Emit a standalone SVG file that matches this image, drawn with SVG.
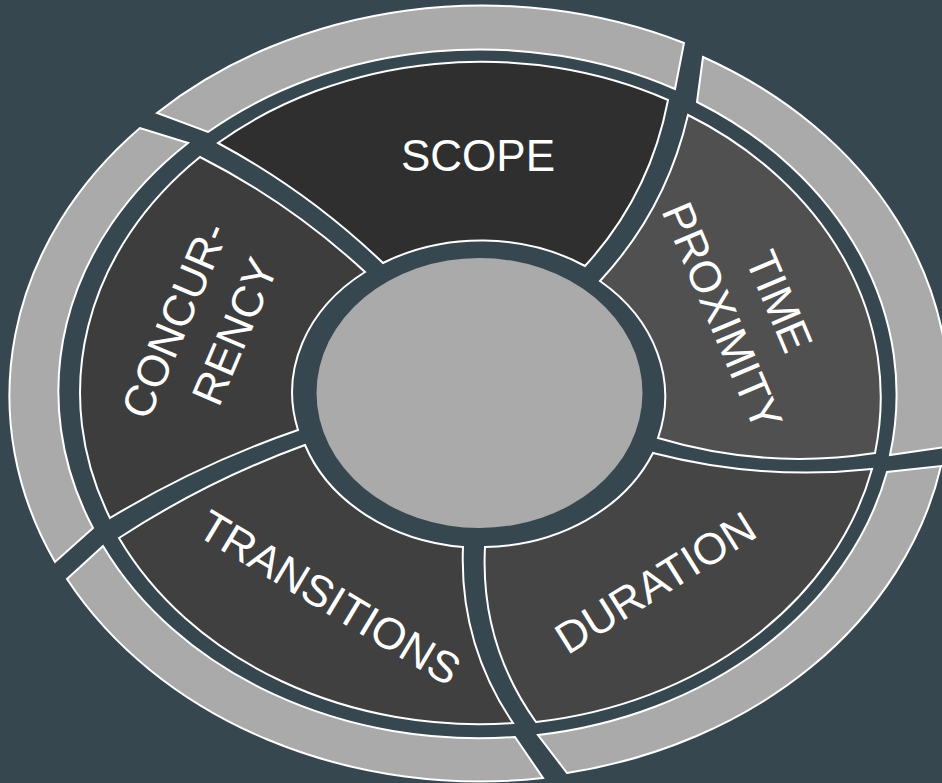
<svg xmlns="http://www.w3.org/2000/svg" width="942" height="783" viewBox="0 0 942 783">
  <style>
    .ring { fill: #aaaaaa; stroke: #ffffff; stroke-width: 2; stroke-linejoin: miter; }
    .seg { stroke: #ffffff; stroke-width: 2; stroke-linejoin: miter; }
    .label { font-family: "Liberation Sans", Arial, sans-serif; font-size: 44px; fill: #ffffff; text-anchor: middle; }
  </style>
  <rect width="942" height="783" fill="#37474f"/>

  <!-- outer grey band, five pieces -->
  <g id="outer-band">
    <path class="ring" d="M157,113 A470,387 0 0 1 684,43 L675,89 A418,343 0 0 0 208,132 Z"/>
    <path class="ring" d="M703,57 A470,387 0 0 1 945,447 L890,455 A418,343 0 0 0 697,102 Z"/>
    <path class="ring" d="M941,466 A470,387 0 0 1 567,773 L538,735 A418,343 0 0 0 887,472 Z"/>
    <path class="ring" d="M543,778 A470,387 0 0 1 67,579 L103,546 A418,343 0 0 0 515,737 Z"/>
    <path class="ring" d="M55,562 A470,387 0 0 1 140,128 L188,143 A418,343 0 0 0 93,528 Z"/>
  </g>

  <!-- hub -->
  <g id="hub">
    <ellipse cx="479.5" cy="393" rx="163" ry="135" fill="#aaaaaa"/>
  </g>

  <g id="scope">
    <path class="seg" fill="#2f2f2f" d="M218,143 A400,330 0 0 1 668,100 Q650,195 585,266 A187,152 0 0 0 383,263 Q308.7,191.7 218,143 Z"/>
    <text class="label" x="478" y="171">SCOPE</text>
  </g>

  <g id="time-proximity">
    <path class="seg" fill="#505050" d="M688,115 A400,330 0 0 1 875,453 Q765,470 658,438 A187,152 0 0 0 600,281 Q666,210 688,115 Z"/>
    <text class="label" transform="translate(780,301) rotate(67)" x="0" y="16">TIME</text>
    <text class="label" transform="translate(723,316) rotate(67)" x="0" y="16">PROXIMITY</text>
  </g>

  <g id="duration">
    <path class="seg" fill="#454545" d="M872,469 A400,330 0 0 1 536,722 Q480,643.5 485,547 A187,152 0 0 0 653,453 Q761,481 872,469 Z"/>
    <text class="label" transform="translate(655,582) rotate(-32)" x="0" y="16">DURATION</text>
  </g>

  <g id="transitions">
    <path class="seg" fill="#404040" d="M513,723 A400,330 0 0 1 119,538 Q206.6,480.8 305,445 A187,152 0 0 0 463,547 Q459,643 513,723 Z"/>
    <text class="label" transform="translate(330,597) rotate(31)" x="0" y="16">TRANSITIONS</text>
  </g>

  <g id="concurrency">
    <path class="seg" fill="#3d3d3d" d="M110,518 A400,330 0 0 1 200,157 Q290.5,203 365,272 A187,152 0 0 0 298,430 Q199.3,464 110,518 Z"/>
    <text class="label" transform="translate(174,320) rotate(-67)" x="0" y="16">CONCUR-</text>
    <text class="label" transform="translate(234,331) rotate(-67)" x="0" y="16">RENCY</text>
  </g>

  <g id="connectors"/>
</svg>
